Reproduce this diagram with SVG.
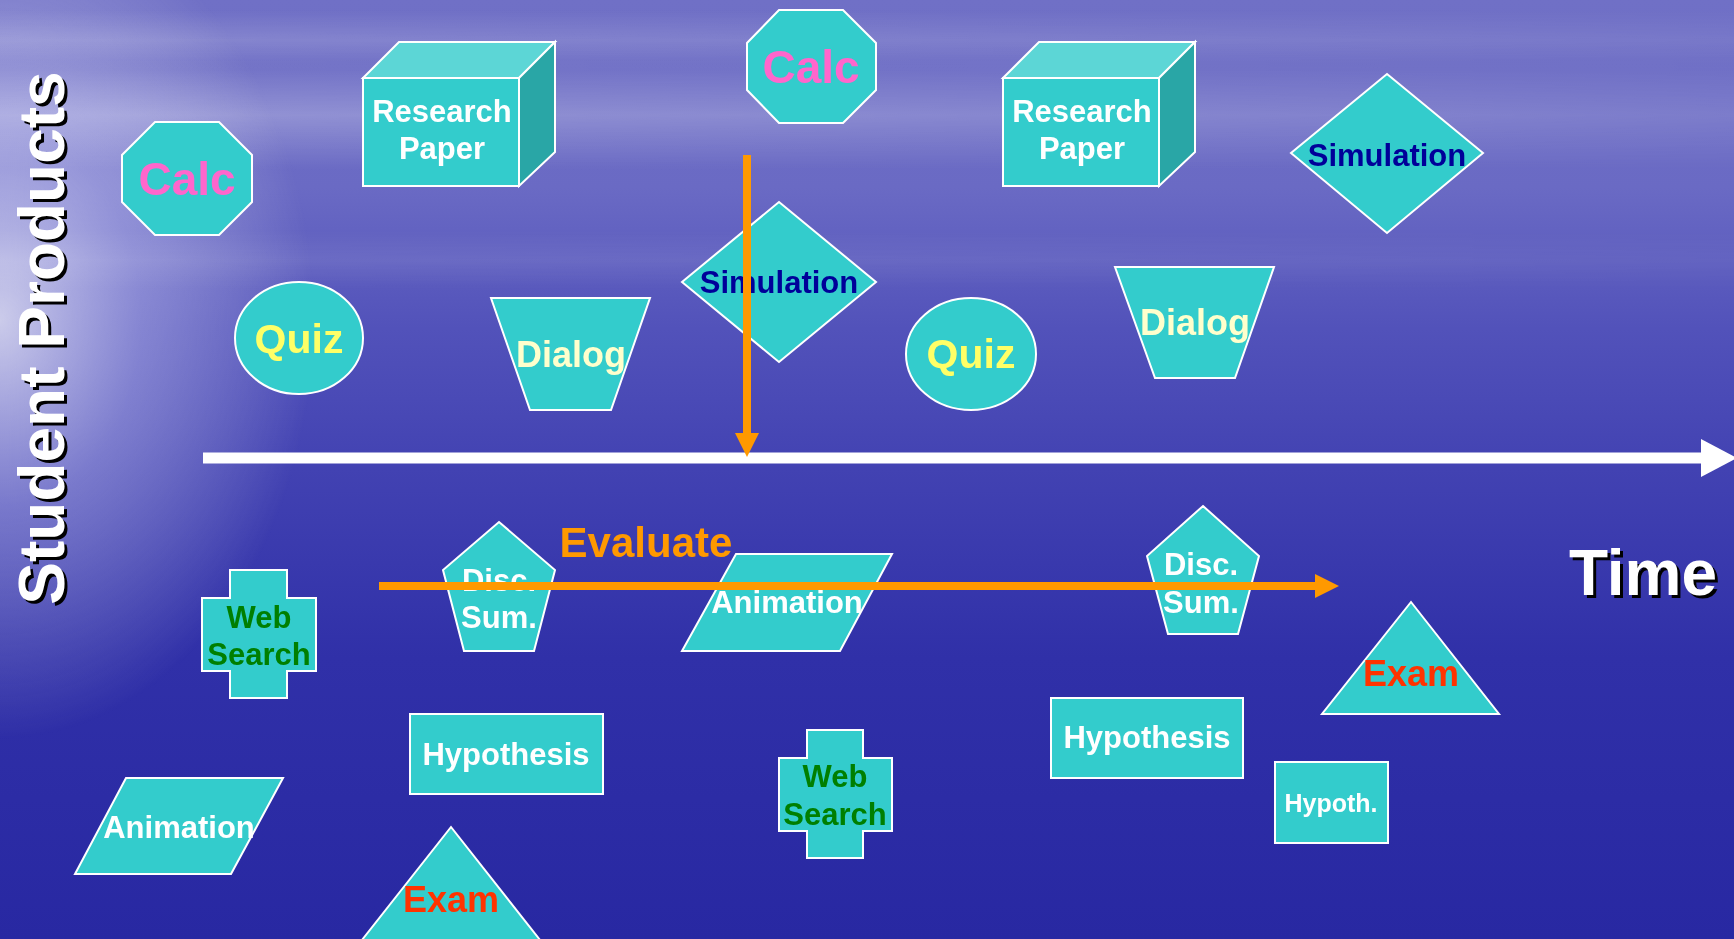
<svg xmlns="http://www.w3.org/2000/svg" width="1734" height="939" viewBox="0 0 1734 939">
<defs>
<linearGradient id="bg" x1="0" y1="0" x2="0" y2="1">
<stop offset="0" stop-color="#7070c6"/>
<stop offset="0.2" stop-color="#6a6ac4"/>
<stop offset="0.35" stop-color="#5252ba"/>
<stop offset="0.5" stop-color="#4242b2"/>
<stop offset="0.7" stop-color="#3030a8"/>
<stop offset="1" stop-color="#2828a2"/>
</linearGradient>
<radialGradient id="glow" gradientUnits="userSpaceOnUse" cx="0" cy="320" r="420" gradientTransform="translate(0,320) scale(0.75,1) translate(0,-320)">
<stop offset="0" stop-color="#ffffff" stop-opacity="0.7"/>
<stop offset="0.45" stop-color="#e4e4ff" stop-opacity="0.35"/>
<stop offset="1" stop-color="#ffffff" stop-opacity="0"/>
</radialGradient>
<linearGradient id="haze" x1="0" y1="0" x2="0" y2="1">
<stop offset="0" stop-color="#ffffff" stop-opacity="0"/>
<stop offset="0.5" stop-color="#ffffff" stop-opacity="0.28"/>
<stop offset="1" stop-color="#ffffff" stop-opacity="0"/>
</linearGradient>
<linearGradient id="hazeFade" x1="0" y1="0" x2="1" y2="0">
<stop offset="0" stop-color="#ffffff" stop-opacity="1"/>
<stop offset="0.7" stop-color="#ffffff" stop-opacity="0.6"/>
<stop offset="1" stop-color="#ffffff" stop-opacity="0.4"/>
</linearGradient>
<mask id="hm"><rect x="0" y="0" width="1734" height="939" fill="url(#hazeFade)"/></mask>
<marker id="oh" viewBox="0 0 24 24" refX="0" refY="12" markerWidth="24" markerHeight="24" markerUnits="userSpaceOnUse" orient="auto">
<path d="M0,0 L24,12 L0,24 z" fill="#FF9900"/>
</marker>
<marker id="wh" viewBox="0 0 36 38" refX="0" refY="19" markerWidth="36" markerHeight="38" markerUnits="userSpaceOnUse" orient="auto">
<path d="M0,0 L36,19 L0,38 z" fill="#ffffff"/>
</marker>
<style>
.s{fill:#33CCCC;stroke:#ffffff;stroke-width:2}
.top{fill:#5CD6D6;stroke:#ffffff;stroke-width:2}
.side{fill:#29A6A6;stroke:#ffffff;stroke-width:2}
.t{font-family:"Liberation Sans",Arial,sans-serif;font-weight:bold;text-anchor:middle}
.calc{fill:#FF66CC;font-size:46px}
.rp{fill:#ffffff;font-size:31px}
.sim{fill:#000099;font-size:31px}
.quiz{fill:#FFFF66;font-size:41px}
.dia{fill:#FFFFCC;font-size:36px}
.web{fill:#007F00;font-size:31px}
.m{fill:#ffffff;font-size:31px}
.sm{fill:#ffffff;font-size:25px}
.exam{fill:#FF3300;font-size:36px}
.big{font-size:64px}
.oline{stroke:#FF9900;stroke-width:8;fill:none}
</style>
</defs>

<g id="background">
<rect x="0" y="0" width="1734" height="939" fill="url(#bg)"/>
<g mask="url(#hm)">
<rect x="0" y="10" width="1734" height="60" fill="url(#haze)" opacity="0.6"/>
<rect x="0" y="60" width="1734" height="110" fill="url(#haze)"/>
<rect x="0" y="230" width="1734" height="60" fill="url(#haze)" opacity="0.35"/>
</g>
<rect x="0" y="0" width="1734" height="939" fill="url(#glow)"/>
</g>

<g id="axis-labels">
<text class="t big" fill="#000000" transform="translate(67,341) rotate(-90)">Student Products</text>
<text class="t big" fill="#ffffff" transform="translate(64,338) rotate(-90)">Student Products</text>
<text class="t big" fill="#000000" x="1646" y="598">Time</text>
<text class="t big" fill="#ffffff" x="1643" y="595">Time</text>
</g>

<g id="calc-1">
<polygon class="s" points="155,122 219,122 252,155 252,202 219,235 155,235 122,202 122,155"/>
<text class="t calc" x="187" y="195">Calc</text>
</g>
<g id="calc-2">
<polygon class="s" points="779,10 843,10 876,43 876,90 843,123 779,123 747,90 747,43"/>
<text class="t calc" x="811" y="83">Calc</text>
</g>
<g id="research-paper-1">
<rect class="s" x="363" y="78" width="156" height="108"/>
<polygon class="top" points="363,78 399,42 555,42 519,78"/>
<polygon class="side" points="519,78 555,42 555,152 519,186"/>
<text class="t rp" x="442" y="122">Research</text>
<text class="t rp" x="442" y="159">Paper</text>
</g>
<g id="research-paper-2">
<rect class="s" x="1003" y="78" width="156" height="108"/>
<polygon class="top" points="1003,78 1039,42 1195,42 1159,78"/>
<polygon class="side" points="1159,78 1195,42 1195,152 1159,186"/>
<text class="t rp" x="1082" y="122">Research</text>
<text class="t rp" x="1082" y="159">Paper</text>
</g>
<g id="simulation-1">
<polygon class="s" points="779,202 876,282 779,362 682,282"/>
<text class="t sim" x="779" y="293">Simulation</text>
</g>
<g id="simulation-2">
<polygon class="s" points="1387,74 1483,153 1387,233 1291,153"/>
<text class="t sim" x="1387" y="166">Simulation</text>
</g>
<g id="quiz-1">
<ellipse class="s" cx="299" cy="338" rx="64" ry="56"/>
<text class="t quiz" x="299" y="353">Quiz</text>
</g>
<g id="quiz-2">
<ellipse class="s" cx="971" cy="354" rx="65" ry="56"/>
<text class="t quiz" x="971" y="368">Quiz</text>
</g>
<g id="dialog-1">
<polygon class="s" points="491,298 650,298 611,410 530,410"/>
<text class="t dia" x="571" y="367">Dialog</text>
</g>
<g id="dialog-2">
<polygon class="s" points="1115,267 1274,267 1235,378 1155,378"/>
<text class="t dia" x="1195" y="335">Dialog</text>
</g>
<g id="web-search-1">
<polygon class="s" points="230,570 287,570 287,598 316,598 316,671 287,671 287,698 230,698 230,671 202,671 202,598 230,598"/>
<text class="t web" x="259" y="628">Web</text>
<text class="t web" x="259" y="665">Search</text>
</g>
<g id="web-search-2">
<polygon class="s" points="807,730 863,730 863,758 892,758 892,831 863,831 863,858 807,858 807,831 779,831 779,758 807,758"/>
<text class="t web" x="835" y="787">Web</text>
<text class="t web" x="835" y="825">Search</text>
</g>
<g id="disc-sum-1">
<polygon class="s" points="499,522 555,570 534,651 464,651 443,570"/>
<text class="t m" x="499" y="591">Disc.</text>
<text class="t m" x="499" y="628">Sum.</text>
</g>
<g id="disc-sum-2">
<polygon class="s" points="1203,506 1259,556 1238,634 1168,634 1147,556"/>
<text class="t m" x="1201" y="575">Disc.</text>
<text class="t m" x="1201" y="613">Sum.</text>
</g>
<g id="animation-1">
<polygon class="s" points="736,554 892,554 840,651 682,651"/>
<text class="t m" x="787" y="613">Animation</text>
</g>
<g id="animation-2">
<polygon class="s" points="126,778 283,778 231,874 75,874"/>
<text class="t m" x="179" y="838">Animation</text>
</g>
<g id="hypothesis-1">
<rect class="s" x="410" y="714" width="193" height="80"/>
<text class="t m" x="506" y="765">Hypothesis</text>
</g>
<g id="hypothesis-2">
<rect class="s" x="1051" y="698" width="192" height="80"/>
<text class="t m" x="1147" y="748">Hypothesis</text>
</g>
<g id="hypoth">
<rect class="s" x="1275" y="762" width="113" height="81"/>
<text class="t sm" x="1331" y="812">Hypoth.</text>
</g>
<g id="exam-1">
<polygon class="s" points="1411,602 1499,714 1322,714"/>
<text class="t exam" x="1411" y="686">Exam</text>
</g>
<g id="exam-2">
<polygon class="s" points="451,827 540,940 362,940"/>
<text class="t exam" x="451" y="912">Exam</text>
</g>

<g id="connectors">
<line x1="203" y1="458" x2="1701" y2="458" stroke="#ffffff" stroke-width="11" marker-end="url(#wh)"/>
<line class="oline" x1="747" y1="155" x2="747" y2="433" marker-end="url(#oh)"/>
<line class="oline" x1="379" y1="586" x2="1315" y2="586" marker-end="url(#oh)"/>
</g>

<g id="evaluate-label">
<text class="t" x="646" y="557" font-size="42" fill="#FF9900">Evaluate</text>
</g>
</svg>
